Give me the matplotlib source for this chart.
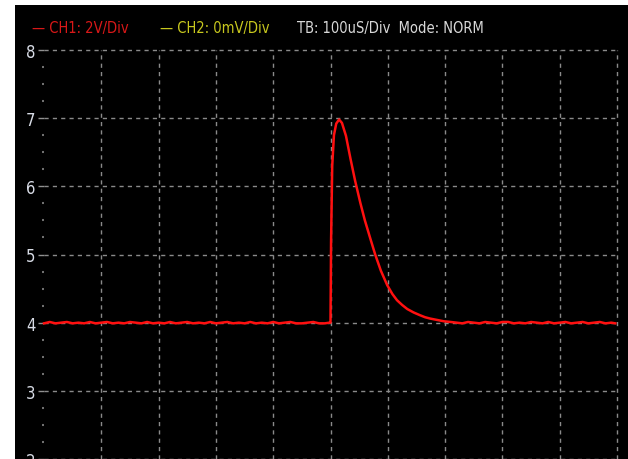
import matplotlib.pyplot as plt
from matplotlib.ticker import MultipleLocator

# 波形数据 (横轴: 格, 纵轴: V)
t_left = [0.0, 0.1, 0.2, 0.3, 0.4, 0.5, 0.6, 0.7, 0.8, 0.9, 1.0, 1.1, 1.2, 1.3, 1.4,
          1.5, 1.6, 1.7, 1.8, 1.9, 2.0, 2.1, 2.2, 2.3, 2.4, 2.5, 2.6, 2.7, 2.8, 2.9,
          3.0, 3.1, 3.2, 3.3, 3.4, 3.5, 3.6, 3.7, 3.8, 3.9, 4.0, 4.1, 4.2, 4.3, 4.4,
          4.5, 4.6, 4.7, 4.8, 4.9, 4.98]
v_left = [3.99, 4.01, 3.99, 4.00, 4.01, 3.99, 4.00, 3.99, 4.01, 3.99, 4.00, 4.01, 3.99, 4.00, 3.99,
          4.01, 4.00, 3.99, 4.01, 3.99, 4.00, 3.99, 4.01, 3.99, 4.00, 4.01, 3.99, 4.00, 3.99, 4.01,
          3.99, 4.00, 4.01, 3.99, 4.00, 3.99, 4.01, 3.99, 4.00, 3.99, 4.01, 3.99, 4.00, 4.01, 3.99,
          3.99, 4.00, 4.01, 3.99, 3.99, 4.00]

t_pulse = [5.00, 5.01, 5.03, 5.06, 5.10, 5.15, 5.20, 5.27, 5.35, 5.43, 5.52, 5.60, 5.70,
           5.78, 5.88, 5.99, 6.08, 6.16, 6.25, 6.34, 6.45, 6.56, 6.65, 6.74, 6.86, 6.98]
v_pulse = [4.00, 5.20, 6.30, 6.75, 6.92, 6.98, 6.93, 6.74, 6.40, 6.08, 5.76, 5.50, 5.22,
           5.00, 4.76, 4.55, 4.42, 4.33, 4.26, 4.20, 4.15, 4.11, 4.08, 4.06, 4.04, 4.02]

t_right = [7.1, 7.2, 7.3, 7.4, 7.5, 7.6, 7.7, 7.8, 7.9, 8.0, 8.1, 8.2, 8.3, 8.4, 8.5,
           8.6, 8.7, 8.8, 8.9, 9.0, 9.1, 9.2, 9.3, 9.4, 9.5, 9.6, 9.7, 9.8, 9.9, 9.97]
v_right = [4.01, 4.00, 3.99, 4.01, 4.00, 3.99, 4.01, 4.00, 3.99, 4.01, 4.01, 3.99, 4.00, 3.99, 4.01,
           4.00, 3.99, 4.01, 3.99, 4.00, 4.01, 3.99, 4.00, 4.01, 3.99, 4.00, 4.01, 3.99, 4.00, 3.99]

y_ticks = [3, 4, 5, 6, 7, 8]
x_grid = [1, 2, 3, 4, 5, 6, 7, 8, 9, 10]

t = t_left + t_pulse + t_right
v = v_left + v_pulse + v_right

fig = plt.figure(figsize=(6.28, 4.6), dpi=100, facecolor='white')

# 黑色屏幕背景
bg = fig.add_axes([15 / 628, 0, 1 - 15 / 628, (460 - 6) / 460])
bg.set_facecolor('black')
bg.set_xticks([])
bg.set_yticks([])
for s in bg.spines.values():
    s.set_visible(False)

ax = fig.add_axes([44 / 628, 0, (617 - 44) / 628, (460 - 51) / 460])
ax.patch.set_alpha(0)
ax.set_xlim(0, 10)
ax.set_ylim(2, 8)
for s in ax.spines.values():
    s.set_visible(False)

ax.set_xticks(x_grid)
ax.set_yticks([2] + y_ticks)
ax.set_yticklabels(['2'] + [str(y) for y in y_ticks], family='DejaVu Sans',
                   stretch='condensed', fontsize=12, color='#d8dce6')
ax.yaxis.set_minor_locator(MultipleLocator(0.25))
ax.tick_params(axis='x', length=0, labelbottom=False)
ax.tick_params(axis='y', which='major', length=4, width=1, color='#909090', pad=2)
ax.tick_params(axis='y', which='minor', length=1.5, width=1.5, color='#707070', pad=0)

ax.grid(True, which='major', color='#8a8a8a', linestyle=(0, (3, 3)), linewidth=1)
for gl in ax.get_xgridlines() + ax.get_ygridlines():
    gl.set_clip_on(False)

# 通道1波形
ax.plot(t, v, color='#ff1010', linewidth=1.8, clip_on=False, zorder=3)

# 顶部状态栏
y_txt = 1 - 28 / 460
fig.text(32 / 628, y_txt, '— CH1: 2V/Div', color='#d81818', fontsize=10.5,
         family='DejaVu Sans', stretch='condensed', va='center')
fig.text(160 / 628, y_txt, '— CH2: 0mV/Div', color='#c8c81e', fontsize=10.5,
         family='DejaVu Sans', stretch='condensed', va='center')
fig.text(297 / 628, y_txt, 'TB: 100uS/Div  Mode: NORM', color='#d8d8d8', fontsize=10.5,
         family='DejaVu Sans', stretch='condensed', va='center')

plt.savefig('out.png', dpi=100, facecolor='white')
